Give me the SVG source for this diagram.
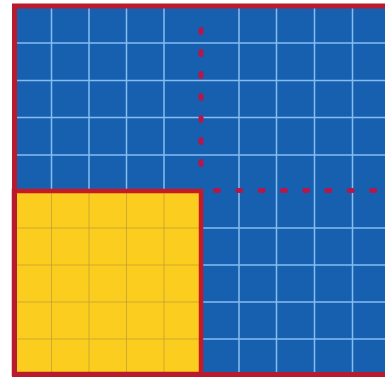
<svg xmlns="http://www.w3.org/2000/svg" width="385" height="379" viewBox="0 0 385 379">
<style>
.gb{stroke:#86bdf0;stroke-width:1.5}
.gy{stroke:#c09a35;stroke-width:1;opacity:0.7}
.dash{stroke:#b5174a;stroke-width:5;stroke-linecap:round;fill:none}
</style>
<rect width="385" height="379" fill="#ffffff"/>
<g id="blue-square">
<rect x="14" y="6" width="376" height="368" fill="#1760b0"/>
<g id="blue-grid">
<line class="gb" x1="51.5" y1="6" x2="51.5" y2="374"/>
<line class="gb" x1="89" y1="6" x2="89" y2="374"/>
<line class="gb" x1="126.5" y1="6" x2="126.5" y2="374"/>
<line class="gb" x1="164" y1="6" x2="164" y2="374"/>
<line class="gb" x1="239" y1="6" x2="239" y2="374"/>
<line class="gb" x1="276.5" y1="6" x2="276.5" y2="374"/>
<line class="gb" x1="314.5" y1="6" x2="314.5" y2="374"/>
<line class="gb" x1="352.5" y1="6" x2="352.5" y2="374"/>
<line class="gb" x1="14" y1="43" x2="390" y2="43"/>
<line class="gb" x1="14" y1="80.5" x2="390" y2="80.5"/>
<line class="gb" x1="14" y1="117.5" x2="390" y2="117.5"/>
<line class="gb" x1="14" y1="155" x2="390" y2="155"/>
<line class="gb" x1="14" y1="228" x2="390" y2="228"/>
<line class="gb" x1="14" y1="265" x2="390" y2="265"/>
<line class="gb" x1="14" y1="302" x2="390" y2="302"/>
<line class="gb" x1="14" y1="339" x2="390" y2="339"/>
</g>
</g>
<g id="yellow-square">
<rect x="14" y="191" width="187" height="183" fill="#fbcd1f"/>
<line class="gy" x1="51.5" y1="191" x2="51.5" y2="374"/>
<line class="gy" x1="89" y1="191" x2="89" y2="374"/>
<line class="gy" x1="126.5" y1="191" x2="126.5" y2="374"/>
<line class="gy" x1="164" y1="191" x2="164" y2="374"/>
<line class="gy" x1="14" y1="228" x2="201" y2="228"/>
<line class="gy" x1="14" y1="265" x2="201" y2="265"/>
<line class="gy" x1="14" y1="302" x2="201" y2="302"/>
<line class="gy" x1="14" y1="339" x2="201" y2="339"/>
<rect x="14" y="191" width="187" height="183" fill="none" stroke="#c71a26" stroke-width="4.5"/>
</g>
<g id="outer-border">
<rect x="14.5" y="6" width="376" height="368.5" fill="none" stroke="#b81a2e" stroke-width="5"/>
</g>
<g id="connectors">
<line class="dash" x1="201" y1="29.5" x2="201" y2="170" stroke-dasharray="3 19"/>
<line class="dash" x1="215.5" y1="190.5" x2="390" y2="190.5" stroke-dasharray="3 19.3"/>
</g>
</svg>
